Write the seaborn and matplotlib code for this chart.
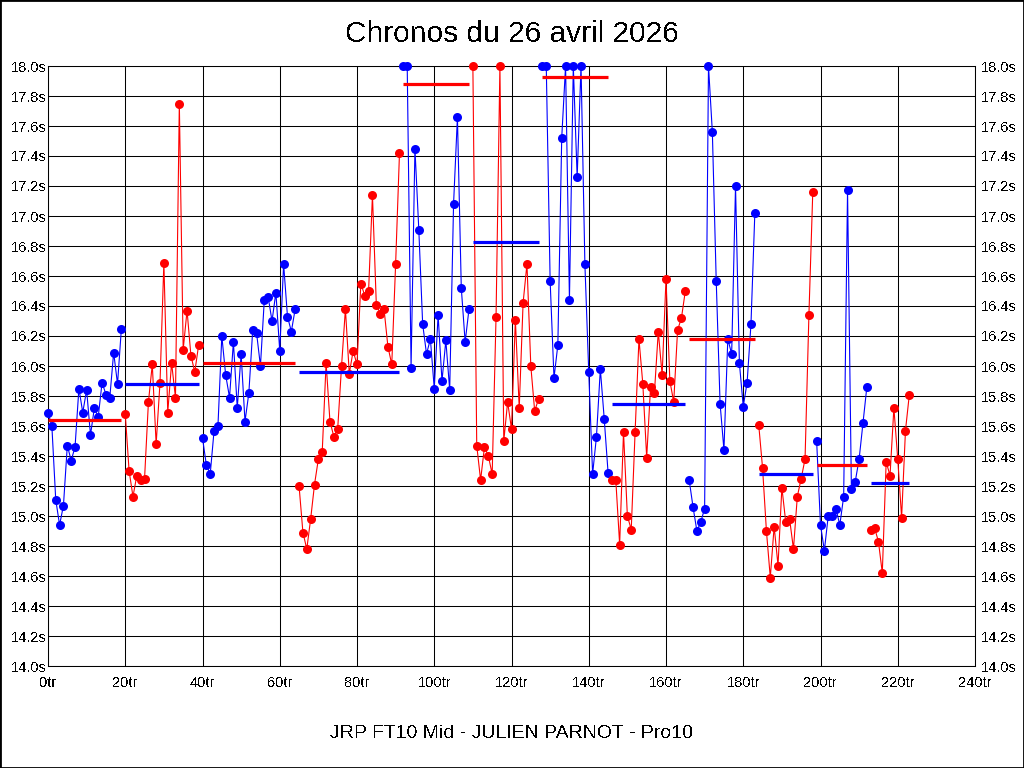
import numpy as np
import pandas as pd
import seaborn as sns
import matplotlib
matplotlib.use("Agg")
import matplotlib.pyplot as plt
from matplotlib.patches import Rectangle
from matplotlib.ticker import FuncFormatter, MultipleLocator

# lap times (s) per stint (values above 18.0s are shown capped)
relais_01 = [15.69, 15.60, 15.11, 14.94, 15.07, 15.47, 15.37, 15.46, 15.85, 15.69,
             15.84, 15.54, 15.72, 15.66, 15.89, 15.81, 15.79, 16.09, 15.88, 16.25]
relais_02 = [15.68, 15.30, 15.13, 15.27, 15.24, 15.25, 15.76, 16.01, 15.48, 15.89,
             16.69, 15.69, 16.02, 15.79, 17.75, 16.11, 16.37, 16.07, 15.96, 16.14]
relais_03 = [15.52, 15.34, 15.28, 15.57, 15.60, 16.20, 15.94, 15.79, 16.16, 15.72,
             16.08, 15.63, 15.82, 16.24, 16.22, 16.00, 16.44, 16.46, 16.30, 16.49,
             16.10, 16.68, 16.33, 16.23, 16.38]
relais_04 = [15.20, 14.89, 14.78, 14.98, 15.21, 15.38, 15.43, 16.02, 15.63, 15.53,
             15.58, 16.00, 16.38, 15.95, 16.10, 16.01, 16.55, 16.47, 16.50, 17.14,
             16.41, 16.35, 16.38, 16.13, 16.01, 16.68, 17.42]
relais_05 = [18.00, 18.00, 15.99, 17.45, 16.91, 16.28, 16.08, 16.18, 15.85, 16.34,
             15.90, 16.17, 15.84, 17.08, 17.66, 16.52, 16.16, 16.38]
relais_06 = [18.00, 15.47, 15.24, 15.46, 15.40, 15.28, 16.33, 18.00, 15.50, 15.76,
             15.58, 16.31, 15.72, 16.42, 16.68, 16.00, 15.70, 15.78]
relais_07 = [18.00, 18.00, 16.57, 15.92, 16.14, 17.52, 18.00, 16.44, 18.00, 17.26,
             18.00, 16.68, 15.96, 15.28, 15.53, 15.98, 15.65, 15.29]
relais_08 = [15.24, 15.24, 14.81, 15.56, 15.00, 14.91, 15.56, 16.18, 15.88, 15.39,
             15.86, 15.82, 16.23, 15.94, 16.58, 15.90, 15.76, 16.24, 16.32, 16.50]
relais_09 = [15.24, 15.06, 14.90, 14.96, 15.05, 18.00, 17.56, 16.57, 15.75, 15.44,
             16.18, 16.08, 17.20, 16.02, 15.73, 15.89, 16.28, 17.02]
relais_10 = [15.61, 15.32, 14.90, 14.59, 14.93, 14.67, 15.19, 14.96, 14.98, 14.78,
             15.13, 15.25, 15.38, 16.34, 17.16]
relais_11 = [15.50, 14.94, 14.77, 15.00, 15.00, 15.05, 14.94, 15.13, 17.17, 15.18,
             15.23, 15.38, 15.62, 15.86]
relais_12 = [14.91, 14.92, 14.83, 14.62, 15.36, 15.27, 15.72, 15.38, 14.99, 15.57,
             15.81]

# stint averages (horizontal bars)
moyennes = [15.64, 15.88, 16.02, 15.96, 17.88, 16.83,
            17.93, 15.75, 16.18, 15.28, 15.34, 15.22]

titre = "Chronos du 26 avril 2026"
pilote = "JRP FT10 Mid - JULIEN PARNOT - Pro10"

relais = [relais_01, relais_02, relais_03, relais_04, relais_05, relais_06,
          relais_07, relais_08, relais_09, relais_10, relais_11, relais_12]

rows = []
lap = 0
for i, times in enumerate(relais):
    for t in times:
        rows.append({"tour": lap, "temps": t, "relais": i})
        lap += 1
df = pd.DataFrame(rows)

BLUE, RED = "#0000ff", "#ff0000"
palette = {i: (BLUE if i % 2 == 0 else RED) for i in range(len(relais))}

sns.set_style("white")
plt.rcParams["font.family"] = ["Liberation Sans", "DejaVu Sans"]
plt.rcParams["text.color"] = "black"
plt.rcParams["text.antialiased"] = False

fig = plt.figure(figsize=(10.24, 7.68), dpi=100)
ax = fig.add_axes([48 / 1024, 1 - 666 / 768, 927 / 1024, 600 / 768])

ax.set_xlim(0, 240)
ax.set_ylim(14.0, 18.0)
ax.xaxis.set_major_locator(MultipleLocator(20))
ax.yaxis.set_major_locator(MultipleLocator(0.2))
ax.grid(True, color="black", linewidth=0.75)
ax.set_axisbelow(True)
for s in ax.spines.values():
    s.set_color("black")
    s.set_linewidth(0.75)

sns.lineplot(data=df, x="tour", y="temps", hue="relais", palette=palette,
             estimator=None, sort=False, legend=False, ax=ax,
             linewidth=0.8, marker="o", markersize=6.5, markeredgewidth=0,
             clip_on=False, zorder=3)

# stint averages, drawn over the laps of each stint
starts = df.groupby("relais")["tour"].min().values
ends = df.groupby("relais")["tour"].max().values
for i, m in enumerate(moyennes):
    ax.hlines(m, starts[i], ends[i], colors=(RED if i % 2 == 0 else BLUE),
              linewidth=2.3, zorder=4)

ax.xaxis.set_major_formatter(FuncFormatter(lambda v, p: f"{int(round(v))}tr"))
ax.yaxis.set_major_formatter(FuncFormatter(lambda v, p: f"{v:.1f}s"))
ax.tick_params(axis="x", length=0, pad=7, labelsize=10.5, colors="black")
ax.tick_params(axis="y", length=0, pad=1, labelsize=10.5, colors="black")
ax.set_xlabel("")
ax.set_ylabel("")

ax2 = ax.twinx()
ax2.set_ylim(ax.get_ylim())
ax2.yaxis.set_major_locator(MultipleLocator(0.2))
ax2.yaxis.set_major_formatter(FuncFormatter(lambda v, p: f"{v:.1f}s"))
ax2.tick_params(axis="y", length=0, pad=4, labelsize=10.5, colors="black")
ax2.grid(False)
for s in ax2.spines.values():
    s.set_visible(False)

fig.text(0.5, 1 - 34 / 768, titre, ha="center", va="center", fontsize=21.5)
fig.text(0.5, 1 - 733 / 768, pilote, ha="center", va="center", fontsize=14)

fig.patches.append(Rectangle((0, 0), 1, 1, transform=fig.transFigure,
                             fill=False, edgecolor="black", linewidth=2))

fig.savefig("out.png", dpi=100, facecolor="white")
